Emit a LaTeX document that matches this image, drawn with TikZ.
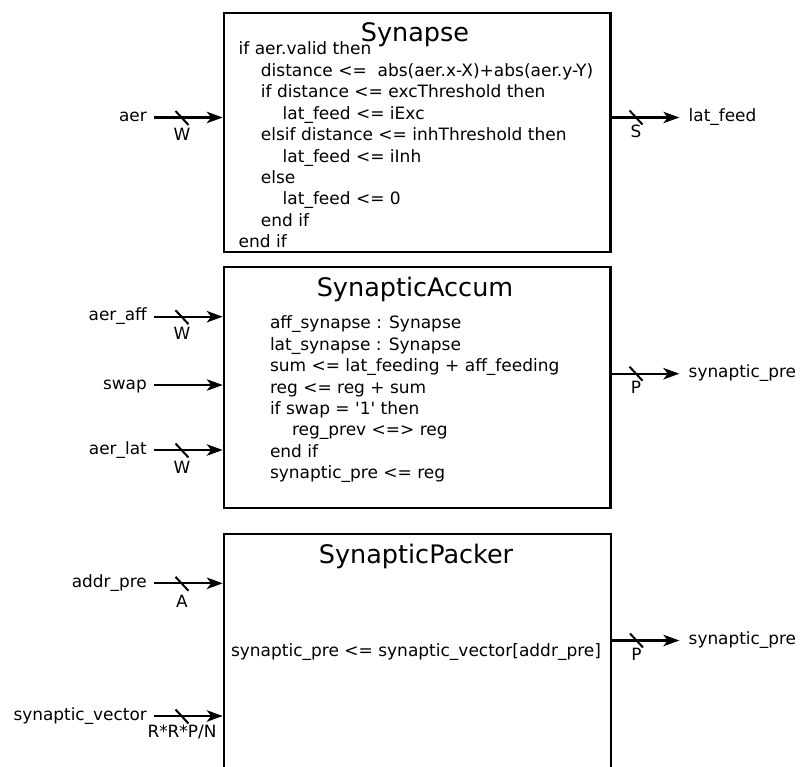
\documentclass[tikz,border=0pt]{standalone}
\usepackage{fontspec}
\setmainfont{DejaVu Sans}
\usetikzlibrary{arrows.meta,calc}
\begin{document}
\begin{tikzpicture}[x=1pt,y=-1pt,
  blockbox/.style={draw=black,line width=2.3pt,rectangle,inner sep=0pt,anchor=north west},
  titletext/.style={font=\fontsize{25.5}{28}\selectfont,inner sep=0pt,anchor=base},
  codeline/.style={font=\fontsize{17}{20}\selectfont,inner sep=0pt,anchor=base west},
  lbl/.style={font=\fontsize{16.9}{20}\selectfont,inner sep=0pt},
  conn/.style={line width=2.2pt,-{Stealth[length=16pt,width=11.5pt,inset=4.5pt]}},
  busmark/.style={line width=2pt}
]
\useasboundingbox (0,0) rectangle (801,767);
\clip (0,0) rectangle (801,767);

% ---------- boxes ----------
\node[blockbox,minimum width=386.6pt,minimum height=239pt] (box1) at (222.7,11.7) {};
\node[blockbox,minimum width=386.6pt,minimum height=240.7pt] (box2) at (222.7,266) {};
\node[blockbox,minimum width=387pt,minimum height=260pt] (box3) at (222.7,533) {};

% ---------- titles ----------
\node[titletext] (t1) at (415,42) {Synapse};
\node[titletext] (t2) at (415,296.5) {SynapticAccum};
\node[titletext] (t3) at (416,563.3) {SynapticPacker};

% ---------- Synapse code ----------
\node[codeline] (s1) at (238.5,54.8) {if aer.valid then};
\node[codeline] (s2) at (260.7,76.3) {distance <=\ \ abs(aer.x-X)+abs(aer.y-Y)};
\node[codeline] (s3) at (260.7,97.7) {if distance <= excThreshold then};
\node[codeline] (s4) at (282.5,119.2) {lat\_feed <= iExc};
\node[codeline] (s5) at (260.7,140.6) {elsif distance <= inhThreshold then};
\node[codeline] (s6) at (282.5,162.1) {lat\_feed <= iInh};
\node[codeline] (s7) at (260.7,183.5) {else};
\node[codeline] (s8) at (282.5,205.0) {lat\_feed <= 0};
\node[codeline] (s9) at (260.7,226.4) {end if};
\node[codeline] (s10) at (238.5,247.9) {end if};

% ---------- SynapticAccum code ----------
\node[codeline] (a1) at (269.8,328.8) {aff\_synapse : Synapse};
\node[codeline] (a2) at (269.8,350.2) {lat\_synapse : Synapse};
\node[codeline] (a3) at (269.8,371.6) {sum <= lat\_feeding + aff\_feeding};
\node[codeline] (a4) at (269.8,393.0) {reg <= reg + sum};
\node[codeline] (a5) at (269.8,414.4) {if swap = \textquotesingle 1\textquotesingle\ then};
\node[codeline] (a6) at (291.8,435.8) {reg\_prev <=> reg};
\node[codeline] (a7) at (269.8,457.2) {end if};
\node[codeline] (a8) at (269.8,478.6) {synaptic\_pre <= reg};

% ---------- SynapticPacker code ----------
\node[codeline] (p1) at (230.8,656.7) {synaptic\_pre <= synaptic\_vector[addr\_pre]};

% ---------- inputs ----------
\coordinate (aerS) at (153.5,117.5);
\coordinate (affS) at (153.5,316.7);
\coordinate (swapS) at (153.5,385);
\coordinate (latS) at (153.5,450);
\coordinate (addrS) at (153.5,583.3);
\coordinate (vecS) at (153.5,716);

\node[lbl,anchor=base east] (aerL) at (147,121.3) {aer};
\node[lbl,anchor=base east] (affL) at (147,320.7) {aer\_aff};
\node[lbl,anchor=base east] (swapL) at (147,389) {swap};
\node[lbl,anchor=base east] (latL) at (147,454) {aer\_lat};
\node[lbl,anchor=base east] (addrL) at (147,587.3) {addr\_pre};
\node[lbl,anchor=base east] (vecL) at (147,720) {synaptic\_vector};

\draw[conn] (aerS) -- (aerS -| box1.west);
\draw[conn] (affS) -- (affS -| box2.west);
\draw[conn] (swapS) -- (swapS -| box2.west);
\draw[conn] (latS) -- (latS -| box2.west);
\draw[conn] (addrS) -- (addrS -| box3.west);
\draw[conn] (vecS) -- (vecS -| box3.west);

\coordinate (aerM) at (182,118);
\coordinate (affM) at (182,317.2);
\coordinate (latM) at (182,450.5);
\coordinate (addrM) at (182,583.8);
\coordinate (vecM) at (182,716.5);
\foreach \m in {aerM,affM,latM,addrM,vecM}{
  \draw[busmark] ([shift={(-6.5,-7)}]\m) -- ([shift={(6.5,7)}]\m);
}
\node[lbl,anchor=base] (aerW) at (182,140.5) {W};
\node[lbl,anchor=base] (affW) at (182,340) {W};
\node[lbl,anchor=base] (latW) at (182,473.3) {W};
\node[lbl,anchor=base] (addrW) at (182,607) {A};
\node[lbl,anchor=base] (vecW) at (182,737.3) {R*R*P/N};

% ---------- outputs ----------
\coordinate (lfE) at (679.3,117.5);
\coordinate (sp1E) at (679.3,373.7);
\coordinate (sp2E) at (679.3,640.5);
\draw[conn] (lfE -| box1.east) -- (lfE);
\draw[conn] (sp1E -| box2.east) -- (sp1E);
\draw[conn] (sp2E -| box3.east) -- (sp2E);

\coordinate (lfM) at (636,117.5);
\coordinate (sp1M) at (636,373.7);
\coordinate (sp2M) at (636.5,640.5);
\foreach \m in {lfM,sp1M,sp2M}{
  \draw[busmark] ([shift={(-6.5,-7)}]\m) -- ([shift={(6.5,7)}]\m);
}
\node[lbl,anchor=base] (lfS) at (636,137.3) {S};
\node[lbl,anchor=base] (sp1P) at (636,393.3) {P};
\node[lbl,anchor=base] (sp2P) at (636.5,660) {P};

\node[lbl,anchor=base west] (lfL) at (688.5,121.5) {lat\_feed};
\node[lbl,anchor=base west] (sp1L) at (688.5,377.7) {synaptic\_pre};
\node[lbl,anchor=base west] (sp2L) at (688.5,644.5) {synaptic\_pre};
\end{tikzpicture}
\end{document}
